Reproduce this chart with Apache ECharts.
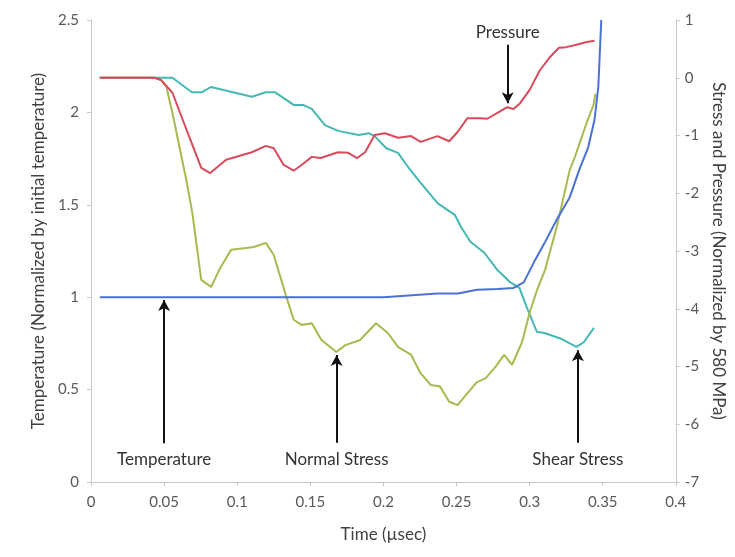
<!DOCTYPE html>
<html>
<head>
<meta charset="utf-8">
<script src="https://cdn.jsdelivr.net/npm/echarts@6/dist/echarts.min.js"></script>
<style>
  html, body { margin: 0; padding: 0; background: #fff; }
  #chart { width: 735px; height: 557px; }
</style>
</head>
<body>
<div id="chart"></div>
<script>
// Time axis (µsec)
const xTicks = [0, 0.05, 0.1, 0.15, 0.2, 0.25, 0.3, 0.35, 0.4];

// Temperature, normalized by initial temperature (left axis)
const tempTime   = [0.006, 0.2, 0.237, 0.251, 0.264, 0.278, 0.289, 0.296, 0.303, 0.31, 0.3186, 0.3274, 0.334, 0.34, 0.3444, 0.347, 0.348, 0.349];
const tempValues = [1.0, 1.0, 1.02, 1.02, 1.04, 1.045, 1.05, 1.08, 1.19, 1.29, 1.42, 1.54, 1.69, 1.81, 1.96, 2.14, 2.32, 2.5];

// Pressure, normalized by 580 MPa (right axis)
const pressTime   = [0.006, 0.0435, 0.048, 0.0557, 0.0673, 0.0754, 0.0815, 0.0924, 0.11, 0.1196, 0.125, 0.1318, 0.1386, 0.144, 0.151, 0.157, 0.169, 0.176, 0.182, 0.1875, 0.194, 0.201, 0.21, 0.219, 0.2255, 0.237, 0.245, 0.2507, 0.2575, 0.266, 0.271, 0.278, 0.2846, 0.289, 0.2935, 0.3, 0.307, 0.314, 0.32, 0.325, 0.332, 0.339, 0.3444];
const pressValues = [0, 0, -0.04, -0.26, -1.03, -1.56, -1.65, -1.42, -1.29, -1.18, -1.22, -1.51, -1.61, -1.51, -1.37, -1.39, -1.29, -1.3, -1.39, -1.29, -0.99, -0.96, -1.04, -1.01, -1.11, -1.01, -1.1, -0.94, -0.7, -0.7, -0.71, -0.61, -0.51, -0.54, -0.44, -0.21, 0.13, 0.36, 0.52, 0.53, 0.57, 0.62, 0.64];

// Normal stress, normalized by 580 MPa (right axis)
const normalTime   = [0.006, 0.0435, 0.048, 0.0516, 0.0557, 0.0605, 0.0652, 0.0693, 0.0754, 0.0822, 0.0876, 0.0958, 0.106, 0.1114, 0.1196, 0.125, 0.1332, 0.1386, 0.144, 0.151, 0.1576, 0.1678, 0.174, 0.184, 0.195, 0.203, 0.21, 0.219, 0.225, 0.2323, 0.2385, 0.245, 0.2507, 0.2575, 0.264, 0.27, 0.2765, 0.2826, 0.288, 0.2948, 0.3, 0.305, 0.3105, 0.3186, 0.3274, 0.331, 0.339, 0.3437, 0.345];
const normalValues = [0, 0, -0.04, -0.16, -0.61, -1.2, -1.77, -2.34, -3.5, -3.62, -3.33, -2.98, -2.95, -2.93, -2.86, -3.07, -3.76, -4.19, -4.28, -4.25, -4.54, -4.75, -4.63, -4.54, -4.25, -4.42, -4.66, -4.8, -5.1, -5.32, -5.34, -5.61, -5.67, -5.46, -5.27, -5.2, -5.01, -4.8, -4.97, -4.58, -4.07, -3.68, -3.33, -2.58, -1.6, -1.37, -0.78, -0.47, -0.28];

// Shear stress, normalized by 580 MPa (right axis)
const shearTime   = [0.006, 0.0557, 0.069, 0.076, 0.082, 0.11, 0.1196, 0.1257, 0.1386, 0.145, 0.151, 0.16, 0.169, 0.183, 0.19, 0.194, 0.202, 0.21, 0.217, 0.2255, 0.237, 0.249, 0.253, 0.2595, 0.269, 0.278, 0.2867, 0.293, 0.298, 0.305, 0.31, 0.3207, 0.332, 0.337, 0.344];
const shearValues = [0, 0, -0.25, -0.25, -0.16, -0.33, -0.25, -0.25, -0.47, -0.47, -0.54, -0.82, -0.92, -0.99, -0.96, -1.01, -1.22, -1.3, -1.55, -1.82, -2.17, -2.38, -2.58, -2.84, -3.03, -3.33, -3.54, -3.64, -3.97, -4.4, -4.42, -4.51, -4.66, -4.58, -4.33];

// Callout arrows: label, time, tail value, head value, axis index
const callouts = [
  { text: 'Temperature',   t: 0.05,  from: 0.21,  to: 0.985, axis: 0 },
  { text: 'Normal Stress', t: 0.168, from: -6.32, to: -4.8,  axis: 1 },
  { text: 'Shear Stress',  t: 0.333, from: -6.32, to: -4.72, axis: 1 },
  { text: 'Pressure',      t: 0.285, from: 0.57,  to: -0.44, axis: 1 }
];

const FONT = 'Lato, "Open Sans", sans-serif';
const zip = (xs, ys) => xs.map((x, i) => [x, ys[i]]);

function lineSeries(name, data, color, yIndex) {
  return {
    name, type: 'line', data, yAxisIndex: yIndex,
    showSymbol: false, symbol: 'none', smooth: false,
    lineStyle: { color, width: 2 }, itemStyle: { color },
    z: 3
  };
}

// Arrows drawn as mark lines on invisible carrier series, one per axis;
// a downward arrow keeps its caption tight above the tail
function calloutSeries(axisIndex) {
  const items = callouts.filter(c => c.axis === axisIndex).map(c => [
    { coord: [c.t, c.from], label: { formatter: c.text, distance: c.from > c.to ? 4 : 8 } },
    { coord: [c.t, c.to] }
  ]);
  return {
    type: 'line', yAxisIndex: axisIndex, data: [], silent: true,
    markLine: {
      silent: true, animation: false,
      symbol: ['none', 'arrow'], symbolSize: [9, 11],
      lineStyle: { color: '#111', width: 2, type: 'solid' },
      label: {
        show: true, position: 'start',
        color: '#333', fontSize: 17, fontFamily: FONT
      },
      emphasis: { disabled: true },
      data: items
    }
  };
}

const axisLine = { show: true, lineStyle: { color: '#c8c8c8', width: 1 } };
const axisTick = { show: true, length: 4, lineStyle: { color: '#c8c8c8' } };
const tickLabel = { color: '#595959', fontSize: 15, fontFamily: FONT };
const nameStyle = { color: '#404040', fontSize: 17, fontFamily: FONT };

const chart = echarts.init(document.getElementById('chart'), null, { renderer: 'canvas' });
chart.setOption({
  animation: false,
  backgroundColor: '#ffffff',
  grid: { left: 91, right: 55, top: 20, bottom: 75, containLabel: false },
  xAxis: {
    type: 'value', min: xTicks[0], max: xTicks[xTicks.length - 1], interval: 0.05,
    name: 'Time (µsec)', nameLocation: 'middle', nameGap: 44, nameTextStyle: nameStyle,
    axisLine, axisTick, splitLine: { show: false },
    axisLabel: { ...tickLabel, margin: 13, formatter: v => String(+v.toFixed(2)) }
  },
  yAxis: [
    {
      type: 'value', min: 0, max: 2.5, interval: 0.5, position: 'left',
      name: 'Temperature (Normalized by initial temperature)', nameLocation: 'middle',
      nameGap: 42, nameRotate: 90, nameTextStyle: nameStyle,
      axisLine, axisTick, splitLine: { show: false },
      axisLabel: { ...tickLabel, margin: 12 }
    },
    {
      type: 'value', min: -7, max: 1, interval: 1, position: 'right',
      name: 'Stress and Pressure (Normalized by 580 MPa)', nameLocation: 'middle',
      nameGap: 33, nameRotate: -90, nameTextStyle: nameStyle,
      axisLine, axisTick, splitLine: { show: false },
      axisLabel: { ...tickLabel, margin: 9 }
    }
  ],
  series: [
    lineSeries('Shear Stress', zip(shearTime, shearValues), '#45b8b6', 1),
    lineSeries('Normal Stress', zip(normalTime, normalValues), '#a9b94e', 1),
    lineSeries('Pressure', zip(pressTime, pressValues), '#d94a5c', 1),
    lineSeries('Temperature', zip(tempTime, tempValues), '#4a72d4', 0),
    calloutSeries(0),
    calloutSeries(1)
  ]
});
</script>
</body>
</html>
